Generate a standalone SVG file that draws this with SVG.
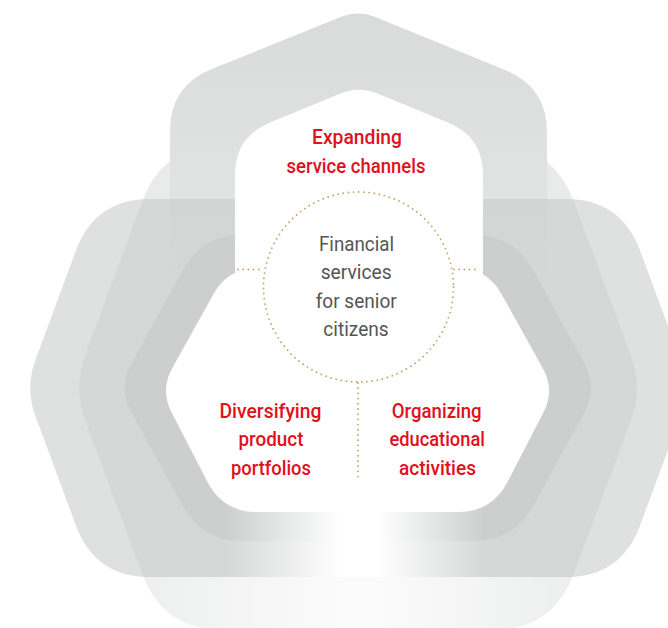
<svg xmlns="http://www.w3.org/2000/svg" width="668" height="628" viewBox="0 0 668 628">
<defs>
<linearGradient id="gT" gradientUnits="userSpaceOnUse" x1="0" y1="10" x2="0" y2="300">
<stop offset="0" stop-color="#d9dada"/>
<stop offset="0.62" stop-color="#e1e2e2" stop-opacity="1"/>
<stop offset="1" stop-color="#e4e5e5" stop-opacity="0"/>
</linearGradient>
<linearGradient id="gFadeA" gradientUnits="userSpaceOnUse" x1="0" y1="0" x2="668" y2="0">
<stop offset="0.337" stop-color="#ffffff" stop-opacity="0"/>
<stop offset="0.509" stop-color="#ffffff" stop-opacity="1"/>
<stop offset="0.566" stop-color="#ffffff" stop-opacity="1"/>
<stop offset="0.726" stop-color="#ffffff" stop-opacity="0"/>
</linearGradient>
<linearGradient id="gFadeB" gradientUnits="userSpaceOnUse" x1="0" y1="0" x2="668" y2="0">
<stop offset="0.2" stop-color="#ffffff" stop-opacity="0.2"/>
<stop offset="0.509" stop-color="#ffffff" stop-opacity="0.8"/>
<stop offset="0.566" stop-color="#ffffff" stop-opacity="0.8"/>
<stop offset="0.85" stop-color="#ffffff" stop-opacity="0.2"/>
</linearGradient>
<style>
.lbl{font-family:Roboto,"Liberation Sans",Arial,sans-serif;font-size:21px;font-weight:500;fill:#e1101d;text-anchor:middle}
.ctr{font-family:Roboto,"Liberation Sans",Arial,sans-serif;font-size:21px;font-weight:400;fill:#555555;text-anchor:middle}
.dot{fill:none;stroke:#c6a56b;stroke-width:1.9;stroke-linecap:round;stroke-dasharray:0 5.2}
.white{fill:#ffffff}
</style>
</defs>
<rect x="0" y="0" width="668" height="628" fill="#ffffff"/>
<g id="bands">
<path id="band-outer" fill="#e9eaea" d="M142.2,201.3 Q163,145 223,145 L493,145 Q553,145 573.8,201.3 L630.8,355.2 Q643,388 630.8,420.8 L573.8,573.7 Q553,630 493,630 L223,630 Q163,630 142.2,573.7 L85.2,420.8 Q73,388 85.2,355.2 Z"/>
<path id="band-top" fill="url(#gT)" d="M170,300 L170,131 Q170,86 211.7,69.1 L341.3,16.75 Q358,10 374.7,16.8 L505.3,70 Q547,87 547,132 L547,300 Z"/>
<path id="band-mid" fill="#c9cbcb" fill-opacity="0.59" d="M75.9,250.6 Q95,199 150,199 L566,199 Q621,199 640.1,250.6 L680.6,359.9 Q691,388 680.6,416.1 L640.1,525.4 Q621,577 566,577 L150,577 Q95,577 75.9,525.4 L35.4,416.1 Q25,388 35.4,359.9 Z"/>
<path id="band-inner" fill="#c4c6c6" fill-opacity="0.45" d="M182.75,270.1 Q202,235 242,235 L474,235 Q514,235 533.25,270.1 L584.5,363.5 Q598,388 584.5,412.5 L533.25,505.9 Q514,541 474,541 L242,541 Q202,541 182.75,505.9 L131.5,412.5 Q118,388 131.5,363.5 Z"/>
<rect x="0" y="500" width="668" height="77" fill="url(#gFadeA)"/>
<rect x="0" y="577" width="668" height="51" fill="url(#gFadeB)"/>
<path class="white" d="M235,420 L235,175 Q235,137 270.1,122.6 L340.5,93.6 Q359,86 377.5,93.6 L447.9,122.6 Q483,137 483,175 L483,420 Z"/>
<path class="white" d="M213.4,294.2 Q228,268 258,268 L457,268 Q487,268 501.6,294.2 L542.8,368.2 Q555,390 543.5,412.2 L507.6,481.8 Q492,512 458,512 L257,512 Q223,512 207.4,481.8 L171.5,412.2 Q160,390 172.2,368.2 Z"/>
</g>
<g id="connectors">
<path class="dot" d="M238,269.5 L263,269.5"/>
<path class="dot" d="M454,269.5 L478,269.5"/>
<path class="dot" d="M358,383 L358,480"/>
</g>
<g id="node-center">
<circle class="dot" cx="358.5" cy="287" r="95"/>
<text class="ctr" x="356.5" y="250.5" textLength="75" lengthAdjust="spacingAndGlyphs">Financial</text>
<text class="ctr" x="356.2" y="279" textLength="71" lengthAdjust="spacingAndGlyphs">services</text>
<text class="ctr" x="356.2" y="307.7" textLength="81" lengthAdjust="spacingAndGlyphs">for senior</text>
<text class="ctr" x="356" y="336" textLength="65.3" lengthAdjust="spacingAndGlyphs">citizens</text>
</g>
<g id="node-channels">
<text class="lbl" x="357" y="144" textLength="90" lengthAdjust="spacingAndGlyphs">Expanding</text>
<text class="lbl" x="356" y="172.7" textLength="139" lengthAdjust="spacingAndGlyphs">service channels</text>
</g>
<g id="node-products">
<text class="lbl" x="270.5" y="417.5" textLength="102" lengthAdjust="spacingAndGlyphs">Diversifying</text>
<text class="lbl" x="271" y="446" textLength="65" lengthAdjust="spacingAndGlyphs">product</text>
<text class="lbl" x="271" y="474.5" textLength="80" lengthAdjust="spacingAndGlyphs">portfolios</text>
</g>
<g id="node-education">
<text class="lbl" x="436.7" y="417.5" textLength="90" lengthAdjust="spacingAndGlyphs">Organizing</text>
<text class="lbl" x="437.2" y="446" textLength="95.5" lengthAdjust="spacingAndGlyphs">educational</text>
<text class="lbl" x="437.5" y="474.5" textLength="77" lengthAdjust="spacingAndGlyphs">activities</text>
</g>
</svg>
